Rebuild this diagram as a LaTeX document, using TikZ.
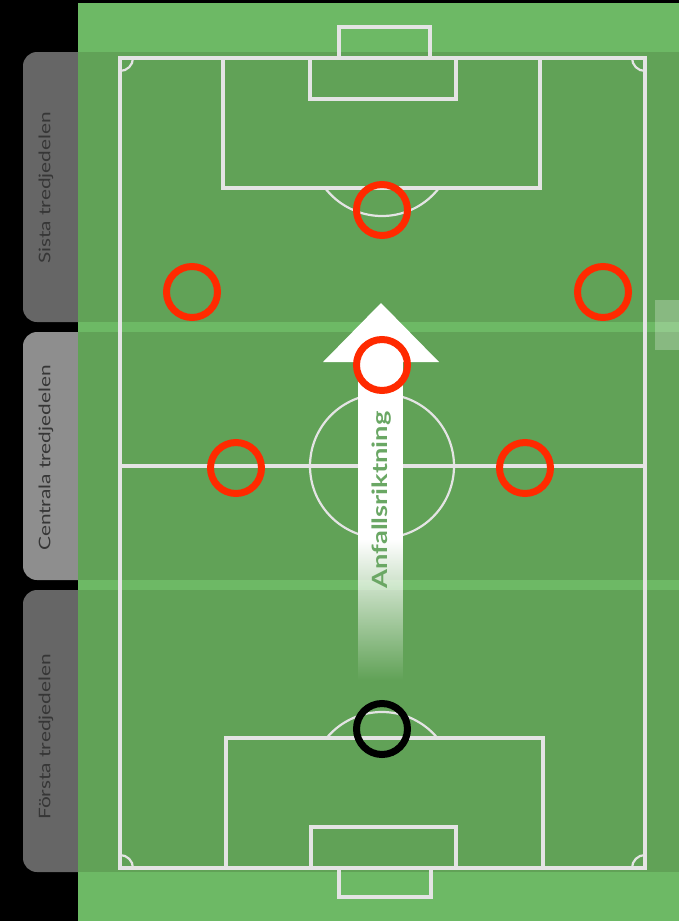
\documentclass[tikz,border=0pt]{standalone}
\usepackage{fontspec}
\setsansfont{Lato}
\newfontfamily\bredfont[FakeStretch=1.3]{Lato}
\usepackage{xcolor}
\usepackage{tikz}
\usetikzlibrary{fadings}
\definecolor{gronljus}{HTML}{6DB965}
\definecolor{gronmork}{HTML}{61A257}
\definecolor{linjevit}{HTML}{E4E4E4}
\definecolor{flikmork}{HTML}{666666}
\definecolor{flikljus}{HTML}{8E8E8E}
\definecolor{fliktext}{HTML}{363636}
\definecolor{rod}{HTML}{FF2A00}
\definecolor{piltext}{HTML}{6AA764}
\tikzfading[name=skaftfade, top color=transparent!0, bottom color=transparent!100]
\tikzset{
  planlinje/.style={draw=linjevit, line width=3.5pt},
  tunnlinje/.style={draw=linjevit, line width=2.2pt},
  tredjedel/.style={fill=gronmork},
  flik/.style={rounded corners=14pt},
  fliketikett/.style={font=\bredfont\fontsize{16}{19}\selectfont, text=fliktext,
    rotate=90, inner sep=0pt},
  spelare/.style={circle, draw=rod, line width=7pt, minimum size=51pt, inner sep=0pt},
  malvakt/.style={spelare, draw=black},
  pil/.style={fill=white},
  piletikett/.style={font=\bredfont\bfseries\fontsize{21}{24}\selectfont, text=piltext,
    rotate=90, inner sep=0pt}
}

\begin{document}
\begin{tikzpicture}[x=1pt, y=-1pt]
    \useasboundingbox (0,0) rectangle (679,921);
    \fill[black] (0,0) rectangle (679,921);

    % flikar till vänster
    \fill[flik, flikmork] (23,52) rectangle (120,322);
    \fill[flik, flikljus] (23,332) rectangle (120,580);
    \fill[flik, flikmork] (23,590) rectangle (120,872);

    % planen
    \fill[gronljus] (78,3) rectangle (679,921);
    \fill[tredjedel] (78,52) rectangle (679,322);
    \fill[tredjedel] (78,332) rectangle (679,580);
    \fill[tredjedel] (78,590) rectangle (679,872);
    \fill[white, opacity=0.25] (655,300) rectangle (679,350);

    % linjer
    \draw[planlinje] (120,58) rectangle (645,868);
    \draw[planlinje] (120,466) -- (645,466);
    \draw[tunnlinje] (382,466) circle (72);
    \draw[planlinje] (223,58) rectangle (540,188);
    \draw[planlinje] (310,58) rectangle (456,99);
    \draw[planlinje] (339,58) -- (339,27) -- (430,27) -- (430,58);
    \draw[planlinje] (226,738) rectangle (543,868);
    \draw[planlinje] (311,827) rectangle (456,868);
    \draw[planlinje] (339,868) -- (339,897) -- (431,897) -- (431,868);
    \begin{scope}
      \clip (200,188) rectangle (560,300);
      \draw[tunnlinje] (382,144) circle (72);
    \end{scope}
    \begin{scope}
      \clip (200,620) rectangle (560,738);
      \draw[tunnlinje] (382,784) circle (72);
    \end{scope}
    \begin{scope}
      \clip (120,58) rectangle (645,868);
      \foreach \hx/\hy in {120/58, 645/58, 120/868, 645/868}
        \draw[tunnlinje] (\hx,\hy) circle (13);
    \end{scope}

    % anfallsriktning
    \fill[pil] (358,361) rectangle (403,540);
    \fill[pil, path fading=skaftfade] (358,540) rectangle (403,680);
    \fill[pil] (381,303) -- (439,362) -- (323,362) -- cycle;
    \node[piletikett] (riktning) at (382,500) {Anfallsriktning};

    % spelare
    \node[spelare] (anfallare) at (382,210) {};
    \node[spelare] (vanserytter) at (192,292) {};
    \node[spelare] (hogerytter) at (603,292) {};
    \node[spelare] (offensiv) at (382,365) {};
    \node[spelare] (vanstermitt) at (236,468) {};
    \node[spelare] (hogermitt) at (525,468) {};
    \node[malvakt] (malvakten) at (382,729) {};

    % etiketter
    \node[fliketikett] (sista) at (46,188) {Sista tredjedelen};
    \node[fliketikett] (centrala) at (46,458) {Centrala tredjedelen};
    \node[fliketikett] (forsta) at (46,737) {Första tredjedelen};
\end{tikzpicture}
\end{document}
